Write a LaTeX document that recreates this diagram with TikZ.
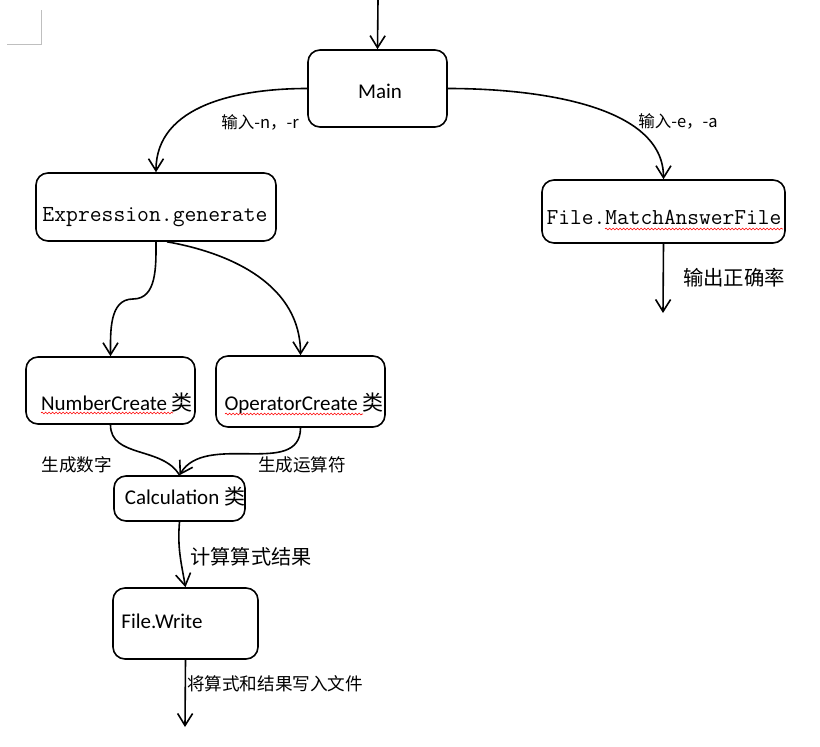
\documentclass[tikz,border=0pt]{standalone}
\usepackage{fontspec}
\setmainfont{Carlito}
\newfontfamily\cjk{Noto Sans CJK SC}
\usetikzlibrary{arrows.meta,decorations.pathmorphing}
\tikzset{
  box/.style={draw, line width=1.6pt, rounded corners=12pt, inner sep=0pt},
  arr/.style={line width=1.6pt, -{Straight Barb[length=12pt,width=15pt]}},
  wire/.style={line width=1.6pt},
  lbl/.style={inner sep=0pt, font=\cjk\fontsize{17.6}{20}\selectfont},
  small/.style={inner sep=0pt, font=\cjk\fontsize{16.5}{18}\selectfont},
  sans/.style={inner sep=0pt, font=\fontsize{21}{24}\selectfont},
  mono/.style={inner sep=0pt, font=\ttfamily\fontsize{23}{26}\selectfont},
  squig/.style={red, line width=0.6pt, decorate, decoration={snake, amplitude=0.9pt, segment length=3.5pt}}
}

\begin{document}
\begin{tikzpicture}[x=1pt,y=-1pt]
		%%%%% START %%%%%
		\useasboundingbox (0,0) rectangle (820,747);
		\draw[black!25, line width=0.8pt] (41,10) -- (41,44) -- (7,44);
		
		\node[box, minimum width=139pt, minimum height=77pt] (main) at (377.5,88.5) {};
		\node[box, minimum width=240pt, minimum height=68pt] (expr) at (156,207) {};
		\node[box, minimum width=243pt, minimum height=63pt] (match) at (663.5,211.5) {};
		\node[box, minimum width=169pt, minimum height=67pt] (num) at (110.5,390.5) {};
		\node[box, minimum width=169pt, minimum height=71pt] (oper) at (300.5,391.5) {};
		\node[box, minimum width=131pt, minimum height=45pt] (calc) at (179.5,498.5) {};
		\node[box, minimum width=145pt, minimum height=71pt] (write) at (185.5,623.5) {};
		
		\node[sans] (mainT) at (380,91) {Main};
		\node[mono] (exprT) at (155,217) {Expression.generate};
		\node[mono, font=\ttfamily\fontsize{22.8}{26}\selectfont] (matchT) at (664,217) {File.MatchAnswerFile};
		\node[sans] (numT) at (117,403) {NumberCreate {\cjk 类}};
		\node[sans] (operT) at (304,403) {OperatorCreate {\cjk 类}};
		\node[sans] (calcT) at (185,497) {Calculation {\cjk 类}};
		\node[sans] (writeT) at (162,621) {File.Write};
		
		\draw[squig] (41,413) -- (173,413);
		\draw[squig] (225,414) -- (363,414);
		\draw[squig] (605,229) -- (783,229);
		
		\coordinate (top) at (378,0);
		\coordinate (rate) at (663,313);
		\coordinate (kink) at (133,299);
		\coordinate (out) at (185,727);
		
		\draw[arr] (top) -- (main.north);
		\draw[arr] (main.west) to[out=180,in=90] (expr.north);
		\draw[arr] (main.east) to[out=0,in=90,out looseness=1,in looseness=0.8] (match.north);
		\draw[arr] (match.south) -- (rate);
		\draw[arr] (expr.south) to[out=-90,in=0] (kink) to[out=180,in=90] (num.north);
		\draw[arr] ([xshift=11pt]expr.south) to[out=-10,in=90] (oper.north);
		\draw[wire] (num.south) to[out=-90,in=120] (calc.north);
		\draw[arr] (oper.south) to[out=-90,in=60] (calc.north);
		\draw[arr] (calc.south) to[out=-95,in=100] (write.north);
		\draw[arr] (write.south) -- (out);
		
		\node[small] (lblNR) at (260,122) {输入-n，-r};
		\node[small] (lblEA) at (678,121) {输入-e，-a};
		\node[lbl, font=\cjk\fontsize{20.4}{24}\selectfont] (lblRate) at (734,278) {输出正确率};
		\node[lbl] (lblNum) at (77,465) {生成数字};
		\node[lbl] (lblOp) at (302,465) {生成运算符};
		\node[lbl, font=\cjk\fontsize{20.2}{24}\selectfont] (lblCalc) at (251,557) {计算算式结果};
		\node[lbl] (lblFile) at (275,684) {将算式和结果写入文件};
		
		%%%%% END %%%%%
	\end{tikzpicture}
\end{document}
